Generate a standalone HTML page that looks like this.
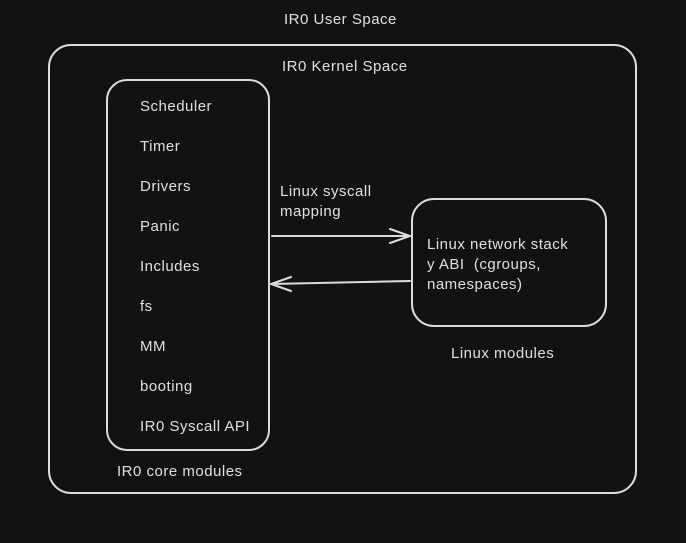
<!DOCTYPE html>
<html><head><style>
body{margin:0;width:686px;height:543px;background:#121212;overflow:hidden}
svg{display:block}
text{font-family:"Liberation Sans",sans-serif;font-size:15px;fill:#e0e0e0;letter-spacing:0.5px}
</style></head><body>
<svg width="686" height="543" viewBox="0 0 686 543">
<rect width="686" height="543" fill="#121212"/>
<g fill="none" stroke="#dcdcdc" stroke-width="2" stroke-linecap="round">
<rect x="49" y="45" width="587" height="448" rx="22"/>
<rect x="107" y="80" width="162" height="370" rx="20"/>
<rect x="412" y="199" width="194" height="127" rx="22"/>
<path d="M272 236 L410 236 M390 229 L410 236 L390 243"/>
<path d="M410 281 L271 284 M291 277 L271 284 L291 291"/>
</g>
<text x="284" y="24">IR0 User Space</text>
<text x="282" y="71">IR0 Kernel Space</text>
<text x="140" y="111">Scheduler</text>
<text x="140" y="151">Timer</text>
<text x="140" y="191">Drivers</text>
<text x="140" y="231">Panic</text>
<text x="140" y="271">Includes</text>
<text x="140" y="311">fs</text>
<text x="140" y="351">MM</text>
<text x="140" y="391">booting</text>
<text x="140" y="431">IR0 Syscall API</text>
<text x="117" y="476">IR0 core modules</text>
<text x="280" y="196">Linux syscall</text>
<text x="280" y="216">mapping</text>
<text x="427" y="249">Linux network stack</text>
<text x="427" y="269" xml:space="preserve">y ABI  (cgroups,</text>
<text x="427" y="289">namespaces)</text>
<text x="451" y="358">Linux modules</text>
</svg>
</body></html>
